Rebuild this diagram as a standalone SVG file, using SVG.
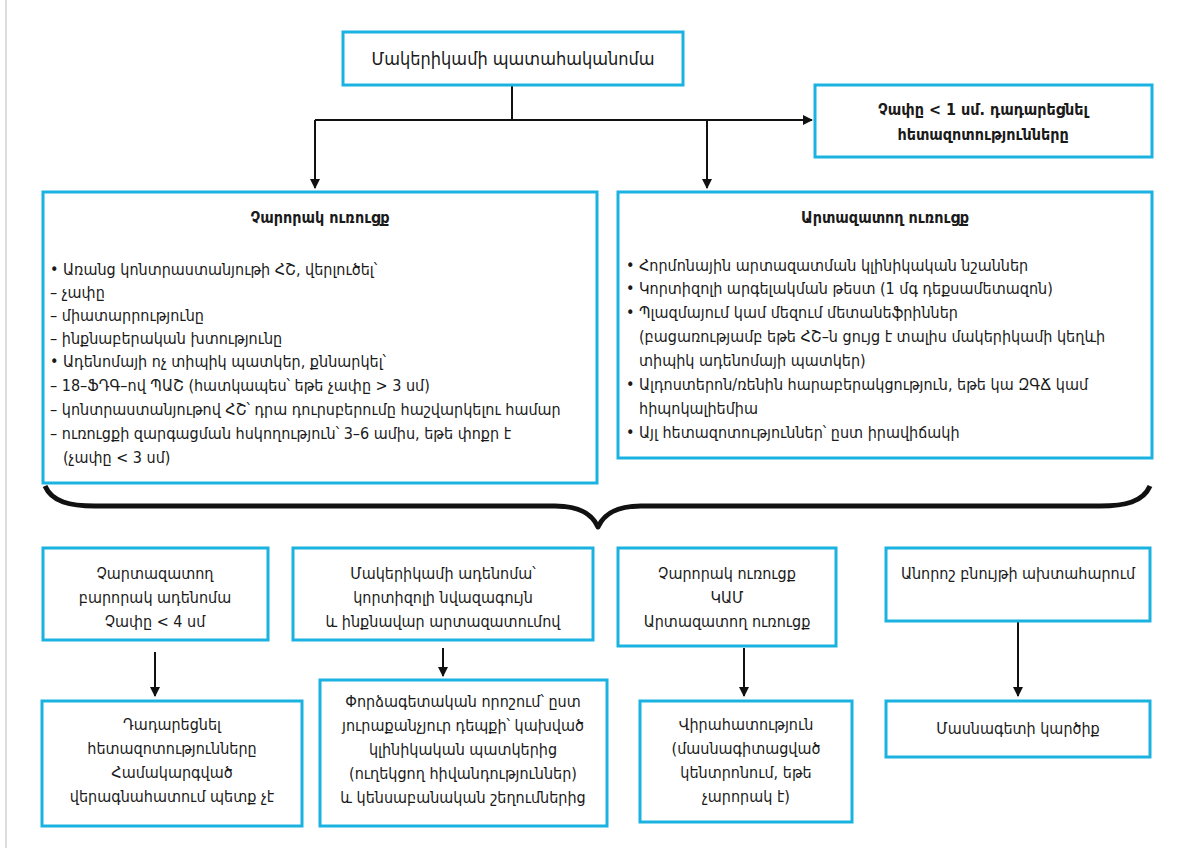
<svg xmlns="http://www.w3.org/2000/svg" width="1190" height="848" viewBox="0 0 1190 848">
<defs>
<style>
.box{fill:#fff;stroke:#1ab2e0;stroke-width:3}
.t{font-family:"DejaVu Sans Condensed","DejaVu Sans",sans-serif;font-stretch:condensed;font-size:16px;fill:#1a1a1a}
.c{text-anchor:middle}
.b{font-weight:bold}
.ln{stroke:#111;stroke-width:2;fill:none}
</style>
<marker id="ah" markerWidth="10" markerHeight="10" refX="9" refY="5" orient="auto" markerUnits="userSpaceOnUse">
<path d="M0,0 L10,5 L0,10 z" fill="#111"/>
</marker>
</defs>
<rect width="1190" height="848" fill="#fff"/>
<line x1="6" y1="0" x2="6" y2="848" stroke="#bbb" stroke-width="1"/>

<g id="connectors">
<line class="ln" x1="512" y1="85" x2="512" y2="120"/>
<line class="ln" x1="315" y1="120" x2="805" y2="120"/>
<line class="ln" x1="805" y1="120" x2="812" y2="120" marker-end="url(#ah)"/>
<line class="ln" x1="315" y1="120" x2="315" y2="188" marker-end="url(#ah)"/>
<line class="ln" x1="707" y1="120" x2="707" y2="188" marker-end="url(#ah)"/>
<path d="M45,486 C52,502 70,506 95,506 L555,506 C580,506 592,514 598,527 C604,514 616,506 641,506 L1100,506 C1125,506 1143,502 1150,486" fill="none" stroke="#111" stroke-width="5" stroke-linejoin="round"/>
<line class="ln" x1="155" y1="652" x2="155" y2="696" marker-end="url(#ah)"/>
<line class="ln" x1="443" y1="648" x2="443" y2="676" marker-end="url(#ah)"/>
<line class="ln" x1="744" y1="648" x2="744" y2="696" marker-end="url(#ah)"/>
<line class="ln" x1="1018" y1="622" x2="1018" y2="696" marker-end="url(#ah)"/>
</g>

<g id="n-top">
<rect class="box" x="343" y="32" width="340" height="53"/>
<text class="t c" x="513" y="65" style="font-size:18px">Մակերիկամի պատահականոմա</text>
</g>

<g id="n-small">
<rect class="box" x="815" y="85" width="337" height="72"/>
<text class="t c b" x="983" y="115">Չափը &lt; 1 սմ. դադարեցնել</text>
<text class="t c b" x="983" y="140">հետազոտությունները</text>
</g>

<g id="n-malignant">
<rect class="box" x="43" y="192" width="554" height="291"/>
<text class="t c b" x="320" y="223">Չարորակ ուռուցք</text>
<text class="t" x="50" y="275">• Առանց կոնտրաստանյութի ՀՇ, վերլուծել՝</text>
<text class="t" x="50" y="298">– չափը</text>
<text class="t" x="50" y="321">– միատարրությունը</text>
<text class="t" x="50" y="344">– ինքնաբերական խտությունը</text>
<text class="t" x="50" y="367">• Ադենոմայի ոչ տիպիկ պատկեր, քննարկել՝</text>
<text class="t" x="50" y="391">– 18–ՖԴԳ–ով ՊԱՇ (հատկապես՝ եթե չափը &gt; 3 սմ)</text>
<text class="t" x="50" y="415">– կոնտրաստանյութով ՀՇ՝ դրա դուրսբերումը հաշվարկելու համար</text>
<text class="t" x="50" y="439">– ուռուցքի զարգացման հսկողություն՝ 3–6 ամիս, եթե փոքր է</text>
<text class="t" x="63" y="463">(չափը &lt; 3 սմ)</text>
</g>

<g id="n-secreting">
<rect class="box" x="618" y="192" width="534" height="266"/>
<text class="t c b" x="885" y="223">Արտազատող ուռուցք</text>
<text class="t" x="626" y="271">• Հորմոնային արտազատման կլինիկական նշաններ</text>
<text class="t" x="626" y="294">• Կորտիզոլի արգելակման թեստ (1 մգ դեքսամետազոն)</text>
<text class="t" x="626" y="318">• Պլազմայում կամ մեզում մետանեֆրիններ</text>
<text class="t" x="639" y="342">(բացառությամբ եթե ՀՇ–ն ցույց է տալիս մակերիկամի կեղևի</text>
<text class="t" x="639" y="366">տիպիկ ադենոմայի պատկեր)</text>
<text class="t" x="626" y="390">• Ալդոստերոն/ռենին հարաբերակցություն, եթե կա ԶԳՃ կամ</text>
<text class="t" x="639" y="414">հիպոկալիեմիա</text>
<text class="t" x="626" y="438">• Այլ հետազոտություններ՝ ըստ իրավիճակի</text>
</g>

<g id="n-benign">
<rect class="box" x="43" y="548" width="225" height="92"/>
<text class="t c" x="155" y="579">Չարտազատող</text>
<text class="t c" x="155" y="603">բարորակ ադենոմա</text>
<text class="t c" x="155" y="627">Չափը &lt; 4 սմ</text>
</g>

<g id="n-autonomous">
<rect class="box" x="293" y="548" width="300" height="92"/>
<text class="t c" x="443" y="579">Մակերիկամի ադենոմա՝</text>
<text class="t c" x="443" y="603">կորտիզոլի նվազագույն</text>
<text class="t c" x="443" y="627">և ինքնավար արտազատումով</text>
</g>

<g id="n-or">
<rect class="box" x="618" y="548" width="218" height="98"/>
<text class="t c" x="727" y="579">Չարորակ ուռուցք</text>
<text class="t c" x="727" y="603">ԿԱՄ</text>
<text class="t c" x="727" y="627">Արտազատող ուռուցք</text>
</g>

<g id="n-indeterminate">
<rect class="box" x="886" y="548" width="264" height="73"/>
<text class="t c" x="1018" y="579">Անորոշ բնույթի ախտահարում</text>
</g>

<g id="n-stop">
<rect class="box" x="42" y="701" width="260" height="125"/>
<text class="t c" x="172" y="730">Դադարեցնել</text>
<text class="t c" x="172" y="754">հետազոտությունները</text>
<text class="t c" x="172" y="778">Համակարգված</text>
<text class="t c" x="172" y="802">վերագնահատում պետք չէ</text>
</g>

<g id="n-expert">
<rect class="box" x="320" y="680" width="287" height="146"/>
<text class="t c" x="463" y="707">Փորձագետական որոշում՝ ըստ</text>
<text class="t c" x="463" y="731">յուրաքանչյուր դեպքի՝ կախված</text>
<text class="t c" x="463" y="755">կլինիկական պատկերից</text>
<text class="t c" x="463" y="779">(ուղեկցող հիվանդություններ)</text>
<text class="t c" x="463" y="803">և կենսաբանական շեղումներից</text>
</g>

<g id="n-surgery">
<rect class="box" x="640" y="701" width="212" height="121"/>
<text class="t c" x="746" y="730">Վիրահատություն</text>
<text class="t c" x="746" y="754">(մասնագիտացված</text>
<text class="t c" x="746" y="778">կենտրոնում, եթե</text>
<text class="t c" x="746" y="802">չարորակ է)</text>
</g>

<g id="n-opinion">
<rect class="box" x="886" y="701" width="264" height="56"/>
<text class="t c" x="1018" y="734">Մասնագետի կարծիք</text>
</g>
</svg>
